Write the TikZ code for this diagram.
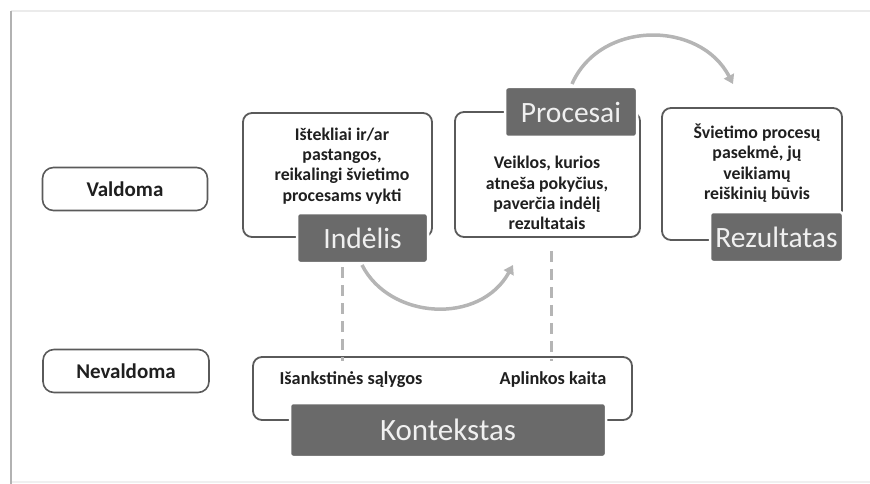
\documentclass[tikz,border=0pt]{standalone}
\usepackage{fontspec}
\setmainfont{Carlito}
\usetikzlibrary{arrows.meta}
\definecolor{darkbox}{HTML}{6A6A6A}
\definecolor{outline}{HTML}{5A5A5A}
\definecolor{arrowgray}{HTML}{B5B5B5}
\tikzset{
  outerbox/.style={draw=outline, line width=1.8pt, rounded corners=9pt, fill=none},
  darkbox/.style={draw=white, line width=2.5pt, fill=darkbox, rounded corners=3pt, text=white!94!black, font=\fontsize{29.5}{31}\selectfont},
  sidebox/.style={draw=outline, line width=1.6pt, rounded corners=11pt, font=\bfseries\fontsize{21}{24}\selectfont, text=black!88},
  desc/.style={align=center, font=\bfseries\fontsize{17.8}{20.3}\selectfont, text=black!88},
  smalltxt/.style={font=\bfseries\fontsize{18.3}{21}\selectfont, text=black!88},
  dashline/.style={draw=arrowgray, line width=3pt, dash pattern=on 11pt off 7pt},
  flowarrow/.style={draw=arrowgray, line width=3.5pt, -{Triangle[width=11pt,length=9pt]}}
}
\begin{document}
\begin{tikzpicture}[x=1pt,y=-1pt]
\useasboundingbox (0,0) rectangle (870,484);
% frame
\coordinate (ftl) at (11,11);
\coordinate (ftr) at (870,11);
\coordinate (fbl) at (11,484);
\coordinate (fbr) at (870,482);
\draw[draw=black!8, line width=2pt] (ftl) -- (ftr);
\draw[draw=black!6, line width=1.5pt] (11,482) -- (fbr);
\draw[draw=black!30, line width=2.2pt] (ftl) -- (fbl);

% side labels
\node[sidebox, minimum width=165pt, minimum height=43pt] (val) at (125,189) {Valdoma};
\node[sidebox, minimum width=166pt, minimum height=43pt] (nev) at (126,371) {Nevaldoma};

% outer boxes
\node[outerbox, minimum width=189pt, minimum height=124pt] (indo) at (337.5,175) {};
\node[outerbox, minimum width=185pt, minimum height=125pt] (proco) at (547.5,174.5) {};
\node[outerbox, minimum width=180pt, minimum height=132pt] (rezo) at (752,174) {};
\node[outerbox, minimum width=379pt, minimum height=63pt] (konto) at (442.5,388.5) {};

% descriptions
\node[desc] (indt) at (342,166) {Ištekliai ir/ar\\pastangos,\\reikalingi švietimo\\procesams vykti};
\node[desc] (proct) at (547,193) {Veiklos, kurios\\atneša pokyčius,\\paverčia indėlį\\rezultatais};
\node[desc] (rezt) at (757,163) {Švietimo procesų\\pasekmė, jų\\veikiamų\\reiškinių būvis};
\node[smalltxt] (isank) at (351,380) {Išankstinės sąlygos};
\node[smalltxt] (aplink) at (553,380) {Aplinkos kaita};

% dark boxes
\node[darkbox, minimum width=131pt, minimum height=50pt] (ind) at (362.5,238) {Indėlis};
\node[darkbox, minimum width=132pt, minimum height=50pt] (proc) at (571,112) {Procesai};
\node[darkbox, minimum width=133pt, minimum height=50pt] (rez) at (776.5,237) {Rezultatas};
\node[darkbox, minimum width=316pt, minimum height=54pt, font=\fontsize{31}{33}\selectfont] (kont) at (448,430) {Kontekstas};

% dashed links
\coordinate (d1) at (342,0);
\coordinate (d2) at (551,0);
\draw[dashline] ([yshift=-3pt]ind.south -| d1) -- ([yshift=-5pt]konto.north -| d1);
\draw[dashline] ([yshift=-13pt]proco.south -| d2) -- ([yshift=-5pt]konto.north -| d2);

% flow arrows
\coordinate (a1s) at (362,265);
\coordinate (a1e) at (513,265);
\coordinate (a2s) at (572,84);
\coordinate (a2e) at (733,84);
\draw[flowarrow] (a1s) .. controls (390,320) and (480,325) .. (a1e);
\draw[flowarrow] (a2s) .. controls (600,20) and (700,20) .. (a2e);
\end{tikzpicture}
\end{document}
